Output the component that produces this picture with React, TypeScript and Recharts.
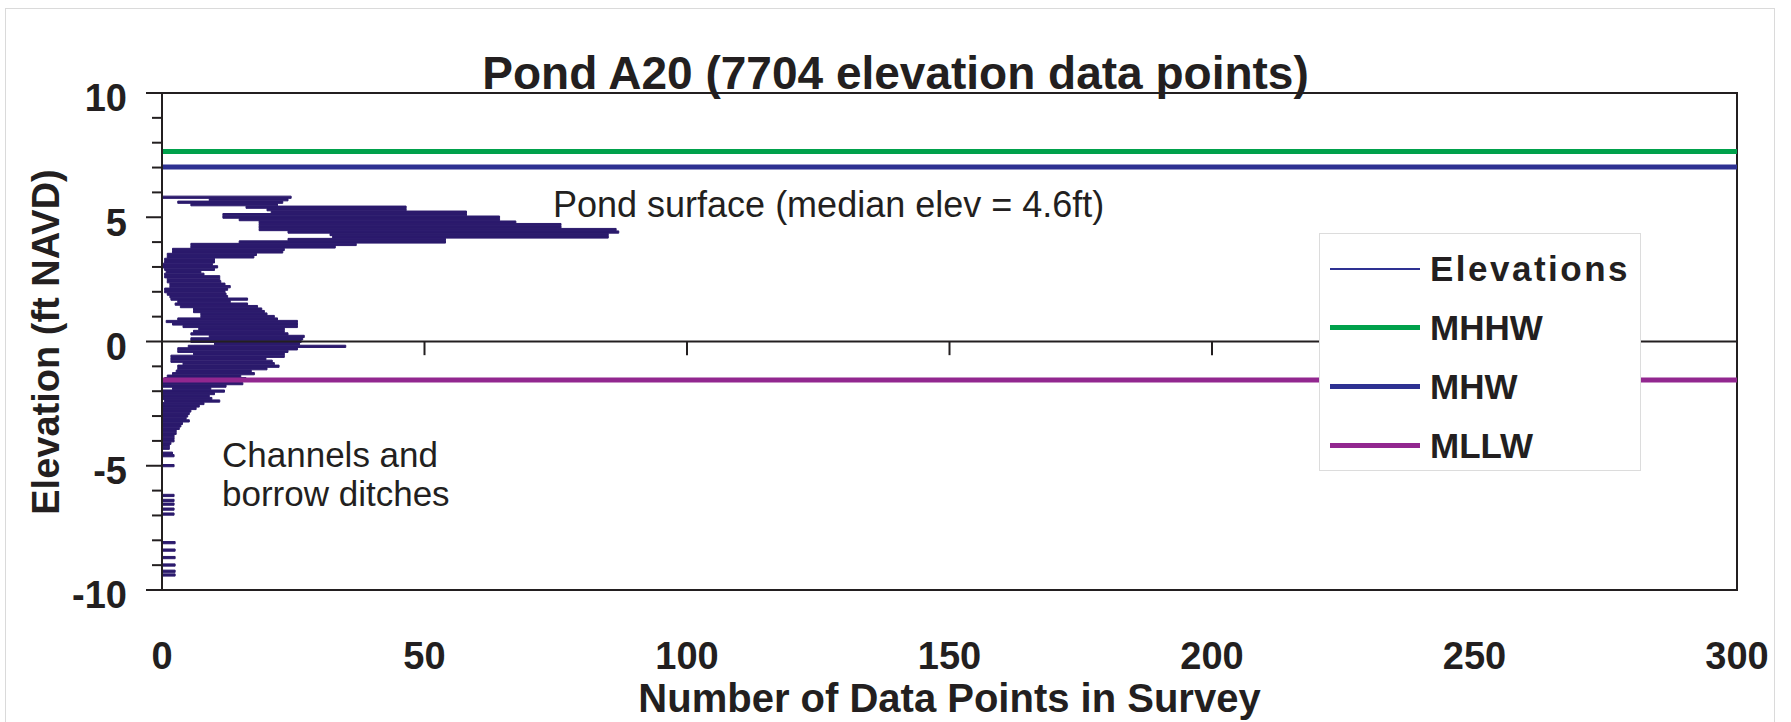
import React from "react";
import { Bar, ComposedChart, Legend, ReferenceArea, ReferenceLine, XAxis, YAxis } from "recharts";

// histogram bins (ft NAVD)
const elevations = [
  5.8, 5.7, 5.6, 5.5, 5.4, 5.3, 5.2, 5.1, 5.0, 4.9,
  4.8, 4.7, 4.6, 4.5, 4.4, 4.3, 4.2, 4.1, 4.0, 3.9,
  3.8, 3.7, 3.6, 3.5, 3.4, 3.3, 3.2, 3.1, 3.0, 2.9,
  2.8, 2.7, 2.6, 2.5, 2.4, 2.3, 2.2, 2.1, 2.0, 1.9,
  1.8, 1.7, 1.6, 1.5, 1.4, 1.3, 1.2, 1.1, 1.0, 0.9,
  0.8, 0.7, 0.6, 0.5, 0.4, 0.3, 0.2, 0.1, 0.0, -0.1,
  -0.2, -0.3, -0.4, -0.5, -0.6, -0.7, -0.8, -0.9, -1.0, -1.1,
  -1.2, -1.3, -1.4, -1.5, -1.6, -1.7, -1.8, -1.9, -2.0, -2.1,
  -2.2, -2.3, -2.4, -2.5, -2.6, -2.7, -2.8, -2.9, -3.0, -3.1,
  -3.2, -3.3, -3.4, -3.5, -3.6, -3.7, -3.8, -3.9, -4.0, -4.1,
  -4.2, -4.3, -4.5, -4.6, -5.0, -6.2, -6.4, -6.55, -6.75, -6.95,
  -8.1, -8.4, -8.7, -9.0, -9.25, -9.4,
];

// the trace zig-zags between a local low and high count at each elevation
const countLow = [
  0, 9, 3, 5.5, 16, 20, 20.8, 11.6, 11.6, 14.7,
  18.5, 18.5, 18.5, 18.5, 24, 32, 32.5, 24, 14.7, 5.5,
  5.5, 2, 2, 1, 1, 0.5, 0.5, 0, 0, 0.5,
  0.8, 0.5, 0.5, 1, 1, 1.5, 1.5, 0.5, 0.5, 1,
  1.5, 1.7, 3, 2.5, 3.5, 6, 6, 7.4, 7.4, 3,
  0.8, 2, 4, 7, 6, 5.5, 9, 5.5, 5.5, 10,
  5, 3, 3, 6, 1.7, 1.7, 1.7, 4, 3, 3,
  2.7, 2, 1, 0.5, 0, 0, 0, 2, 0, 0,
  0, 0, 0.5, 0, 0, 0, 0, 0, 0, 0,
  0, 0, 0, 0, 0, 0, 0, 0, 0, 0,
  0, 0, 0, 0, 0, 0, 0, 0, 0, 0,
  0, 0, 0, 0, 0, 0,
];

const countHigh = [
  24.6, 24, 23, 22, 46.5, 46.5, 58, 58, 64.3, 64.3,
  67.4, 76, 76, 86.5, 87, 85, 85, 54, 54, 37,
  33, 23.3, 23, 18, 17.5, 10, 10, 9.6, 10.6, 10,
  7.4, 8, 11, 11, 11.2, 12, 13, 12.5, 12, 12.2,
  12.5, 16.3, 13, 16.3, 18.2, 19, 19.5, 20, 21.4, 22,
  25.8, 25.8, 25.8, 23.3, 23.3, 24, 27.1, 26.8, 26.5, 26.2,
  35, 25.8, 24, 23.3, 23.3, 19.8, 21, 21.4, 22.3, 20,
  17, 17.6, 15, 16, 15, 15.4, 12.2, 9.3, 11.9, 10,
  9, 9.5, 11, 8, 7.1, 6.5, 5.5, 5.2, 4.9, 4.6,
  5.2, 3.9, 3.6, 3.3, 2.7, 2.7, 2.3, 2.3, 2.3, 1.7,
  1.4, 1.4, 2, 2.3, 2.3, 2.3, 2.3, 2.3, 2.3, 2.3,
  2.5, 2.5, 2.5, 2.5, 2.5, 2.5,
];

const xTicks = [0, 50, 100, 150, 200, 250, 300];
const yTicks = [-10, -9, -8, -7, -6, -5, -4, -3, -2, -1, 0, 1, 2, 3, 4, 5, 6, 7, 8, 9, 10];

const MHHW = 7.65;
const MHW = 7.02;
const MLLW = -1.55;

const INK = "#231f20";
const FONT = "'Liberation Sans', Arial, sans-serif";
const NAVY = "#2b1a6c";

const legendItems = [
  { name: "Elevations", color: "#2e3192", width: 2 },
  { name: "MHHW", color: "#00a14b", width: 5 },
  { name: "MHW", color: "#2e3192", width: 5 },
  { name: "MLLW", color: "#92278f", width: 5 },
];

const histogram = elevations.map((elev, i) => ({ elev, range: [countLow[i], countHigh[i]] }));

function ElevTick(props: any) {
  const { x, y, payload } = props;
  const major = payload.value % 5 === 0;
  const len = major ? 16 : 10;
  return (
    <g>
      <line x1={x - len} x2={x} y1={y} y2={y} stroke={INK} strokeWidth={2} />
      {major && (
        <text x={x - 35} y={y + 5} dy="0.355em" textAnchor="end" fill={INK} fontSize={38} fontWeight="bold" fontFamily={FONT}>
          {payload.value}
        </text>
      )}
    </g>
  );
}

function LegendBox() {
  return (
    <div style={{ width: "100%", height: "100%", boxSizing: "border-box", background: "#fff", border: "1px solid #dcdcdc", paddingTop: 5, fontFamily: FONT }}>
      {legendItems.map((item) => (
        <div key={item.name} style={{ height: 59, display: "flex", alignItems: "center" }}>
          <div style={{ marginLeft: 10, width: 90, height: item.width, background: item.color }} />
          <span style={{ marginLeft: 10, fontSize: 35, fontWeight: "bold", color: INK, letterSpacing: item.name === "Elevations" ? 2.5 : 0 }}>
            {item.name}
          </span>
        </div>
      ))}
    </div>
  );
}

export default function App() {
  return (
    <div style={{ position: "absolute", left: 0, top: 0, width: 1791, height: 722, background: "#fff", fontFamily: FONT, overflow: "hidden" }}>
      <div style={{ position: "absolute", left: 5, top: 8, width: 1768, height: 730, border: "1px solid #dadada" }} />
      <ComposedChart
        width={1791}
        height={722}
        layout="vertical"
        data={histogram}
        margin={{ top: 93, right: 54, bottom: 72, left: 0 }}
      >
        <XAxis
          type="number"
          domain={[0, 300]}
          ticks={xTicks}
          interval={0}
          axisLine={false}
          tickLine={false}
          tickSize={0}
          tickMargin={52}
          height={60}
          tick={{ fill: INK, fontSize: 38, fontWeight: "bold", fontFamily: FONT }}
        />
        <YAxis
          type="number"
          dataKey="elev"
          domain={[-10, 10]}
          reversed
          ticks={yTicks}
          interval={0}
          width={162}
          tickSize={0}
          tickMargin={0}
          tickLine={false}
          axisLine={{ stroke: INK, strokeWidth: 2 }}
          tick={<ElevTick />}
        />
        <ReferenceLine y={0} stroke={INK} strokeWidth={2} />
        {xTicks.slice(1, -1).map((v) => (
          <ReferenceLine key={v} segment={[{ x: v, y: 0 }, { x: v, y: -0.55 }]} stroke={INK} strokeWidth={2} />
        ))}
        <Bar dataKey="range" fill={NAVY} stroke={NAVY} strokeWidth={1} barSize={4} isAnimationActive={false} />
        <ReferenceLine y={MHHW} stroke="#00a14b" strokeWidth={5} />
        <ReferenceLine y={MHW} stroke="#2e3192" strokeWidth={5} />
        <ReferenceLine y={MLLW} stroke="#92278f" strokeWidth={5} />
        <ReferenceArea x1={0} x2={300} y1={-10} y2={10} fill="none" stroke={INK} strokeWidth={2} />
        <Legend
          layout="vertical"
          align="center"
          verticalAlign="middle"
          content={() => <LegendBox />}
          wrapperStyle={{ left: 1319, top: 233, width: 322, height: 238 }}
        />
      </ComposedChart>
      <div style={{ position: "absolute", left: 0, top: 50, width: 1791, textAlign: "center", fontSize: 46, lineHeight: 1, fontWeight: "bold", color: INK }}>
        Pond A20 (7704 elevation data points)
      </div>
      <div style={{ position: "absolute", left: 553, top: 187, fontSize: 36, lineHeight: 1, color: INK, whiteSpace: "nowrap" }}>
        Pond surface (median elev = 4.6ft)
      </div>
      <div style={{ position: "absolute", left: 222, top: 435, fontSize: 35, lineHeight: "39px", color: INK, whiteSpace: "nowrap" }}>
        Channels and
        <br />
        borrow ditches
      </div>
      <div style={{ position: "absolute", left: 162, width: 1575, top: 678, textAlign: "center", fontSize: 40, lineHeight: 1, fontWeight: "bold", color: INK, whiteSpace: "nowrap" }}>
        Number of Data Points in Survey
      </div>
      <div
        style={{
          position: "absolute",
          left: 46,
          top: 342,
          transform: "translate(-50%, -50%) rotate(-90deg)",
          fontSize: 38,
          lineHeight: 1,
          fontWeight: "bold",
          color: INK,
          whiteSpace: "nowrap",
        }}
      >
        Elevation (ft NAVD)
      </div>
    </div>
  );
}
